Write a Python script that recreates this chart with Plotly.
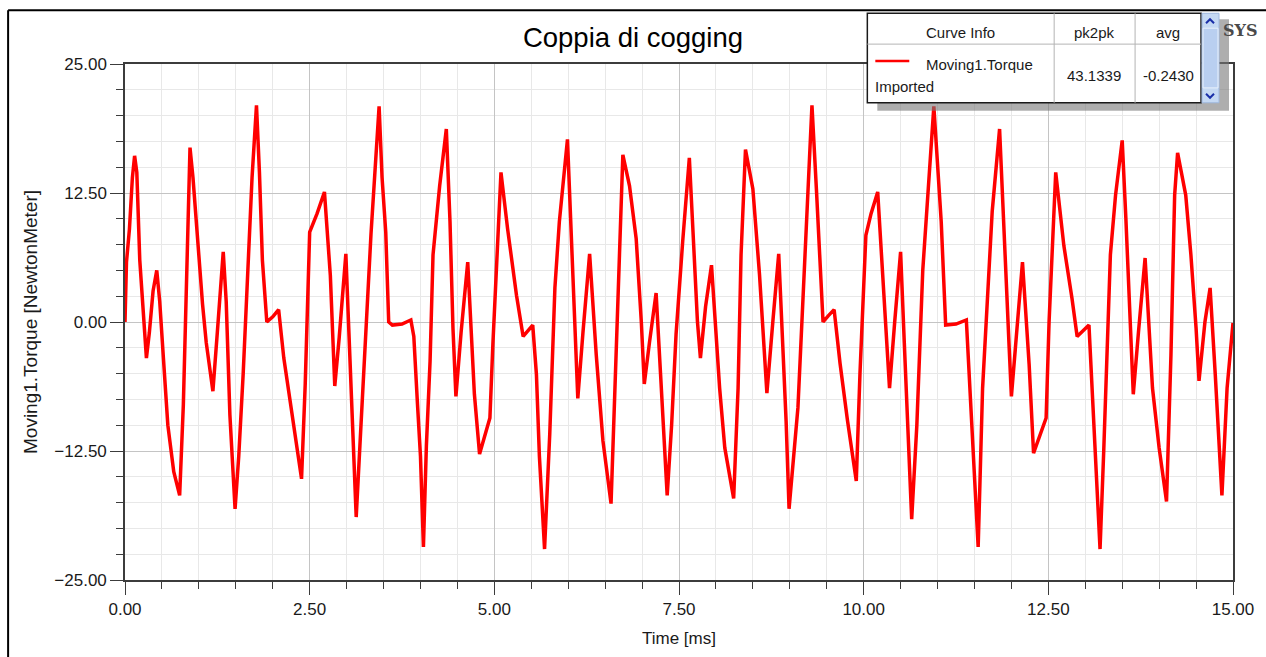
import plotly.graph_objects as go

# ---- data ----
time_ms = [
    0.00, 0.02, 0.06, 0.10, 0.13, 0.16, 0.20, 0.25, 0.29, 0.33, 0.38, 0.43, 0.47, 0.52, 0.58, 0.66, 0.74,
    0.79, 0.84, 0.88, 0.92, 0.97, 1.05, 1.10, 1.19, 1.25, 1.33, 1.37, 1.42, 1.49, 1.54, 1.60, 1.66, 1.72,
    1.78, 1.82, 1.86, 1.92, 2.00, 2.08, 2.15, 2.25, 2.39, 2.44, 2.50, 2.60, 2.70, 2.78, 2.81, 2.84, 2.90,
    2.99, 3.02, 3.07, 3.13, 3.18, 3.25, 3.33, 3.44, 3.48, 3.53, 3.57, 3.62, 3.75, 3.87, 3.91, 3.96, 4.00,
    4.04, 4.08, 4.13, 4.17, 4.26, 4.35, 4.40, 4.44, 4.48, 4.55, 4.64, 4.68, 4.73, 4.80, 4.94, 4.98, 5.09,
    5.18, 5.30, 5.39, 5.52, 5.57, 5.61, 5.68, 5.75, 5.82, 5.88, 5.99, 6.04, 6.09, 6.13, 6.20, 6.29, 6.38,
    6.47, 6.58, 6.67, 6.74, 6.83, 6.92, 6.99, 7.03, 7.10, 7.19, 7.25, 7.34, 7.40, 7.46, 7.55, 7.64, 7.69,
    7.75, 7.79, 7.86, 7.94, 8.05, 8.12, 8.24, 8.30, 8.34, 8.40, 8.50, 8.59, 8.66, 8.69, 8.77, 8.85, 8.95,
    8.99, 9.11, 9.20, 9.30, 9.36, 9.40, 9.45, 9.52, 9.60, 9.68, 9.78, 9.90, 9.95, 10.03, 10.10, 10.19,
    10.30, 10.35, 10.42, 10.50, 10.55, 10.65, 10.72, 10.80, 10.95, 11.05, 11.11, 11.25, 11.39, 11.43,
    11.50, 11.55, 11.61, 11.68, 11.74, 11.84, 11.90, 11.97, 12.00, 12.07, 12.15, 12.24, 12.30, 12.47,
    12.51, 12.60, 12.71, 12.82, 12.89, 13.05, 13.09, 13.14, 13.20, 13.25, 13.30, 13.34, 13.41, 13.50,
    13.55, 13.59, 13.65, 13.72, 13.81, 13.91, 14.00, 14.10, 14.16, 14.21, 14.25, 14.36, 14.43, 14.50,
    14.54, 14.62, 14.69, 14.76, 14.85, 14.92, 15.00,
]
torque_nm = [
    0.0, 5.8, 9.0, 14.0, 16.1, 14.5, 6.0, 0.0, -3.5, -1.0, 3.0, 5.0, 2.0, -3.5, -10.0, -14.5, -16.8,
    -8.0, 6.0, 16.9, 14.0, 9.0, 1.7, -2.0, -6.7, -1.0, 6.8, 2.0, -9.0, -18.1, -13.0, -5.0, 5.0, 14.0,
    21.0, 14.5, 6.0, 0.0, 0.5, 1.2, -3.5, -8.5, -15.2, -6.0, 8.7, 10.5, 12.6, 4.5, -1.4, -6.2, -1.5,
    6.6, 1.0, -9.0, -18.9, -12.0, -2.0, 8.5, 20.9, 14.0, 8.7, 0.0, -0.3, -0.2, 0.2, -1.4, -8.0, -13.0,
    -21.8, -12.0, -3.8, 6.5, 13.2, 18.7, 9.7, -0.6, -7.2, -1.0, 5.8, 0.0, -7.0, -12.8, -9.3, -2.2, 14.5,
    9.0, 2.6, -1.4, -0.3, -5.1, -13.0, -22.0, -10.9, 3.3, 9.7, 17.7, 8.8, 1.7, -7.4, -1.0, 6.6, -3.2,
    -11.5, -17.6, 1.7, 16.2, 13.2, 8.1, 0.0, -6.0, -2.0, 2.8, -5.0, -16.8, -10.0, -1.2, 7.8, 15.9, 8.7,
    0.0, -3.5, 1.5, 5.5, -6.4, -12.2, -17.1, -6.4, 6.5, 16.7, 12.9, 4.6, -3.2, -6.9, 0.0, 6.6, -9.6,
    -18.1, -8.3, 5.8, 21.0, 12.9, 7.1, 0.0, 0.6, 1.2, -4.0, -9.5, -15.4, -5.0, 8.4, 10.5, 12.6,
    0.0, -6.4, 0.0, 6.8, -2.0, -19.1, -10.0, 5.0, 20.9, 9.7, -0.3, -0.2, 0.2, -5.7,
    -16.0, -21.8, -6.4, 3.3, 10.7, 18.7, 8.1, -2.5, -7.2, -1.0, 5.8, -4.1, -12.7, -9.3,
    0.0, 14.5, 7.4, 2.3, -1.4, -0.3, -6.4, -14.4, -22.0, -12.5, -1.6, 6.5, 12.3, 17.6,
    10.0, 3.3, -7.0, -1.0, 6.2, -6.4, -12.2, -17.4, -3.2, 12.3, 16.4, 12.3, 6.5, -0.6,
    -5.7, 0.0, 3.3, -5.1, -16.8, -6.4, -0.1,
]

x_tick_vals = [0, 2.5, 5, 7.5, 10, 12.5, 15]
y_tick_vals = [-25, -12.5, 0, 12.5, 25]
legend_headers = ["Curve Info", "pk2pk", "avg"]
curve_name = ["Moving1.Torque", "Imported"]
curve_stats = ["43.1339", "-0.2430"]

# ---- layout helpers (pixel -> paper) ----
W, H = 1266, 657
L, R, T, B = 125, 1234, 64, 583


def X(px):
    return (px - L) / (R - L)


def Y(py):
    return (B - py) / (B - T)


FONT = "Liberation Sans, Arial, sans-serif"

fig = go.Figure()
fig.add_trace(go.Scatter(
    x=time_ms, y=torque_nm, mode="lines",
    line=dict(color="#ff0000", width=3.5),
    name="Moving1.Torque Imported", showlegend=False, hoverinfo="x+y",
))

axis_common = dict(
    showline=True, linecolor="#3c3c3c", linewidth=1.5, mirror=True,
    showgrid=True, gridcolor="#c4c4c4", gridwidth=1,
    zeroline=False, ticks="outside", ticklen=13, tickcolor="#3c3c3c", tickwidth=1.2,
    tickformat=".2f", tickfont=dict(family=FONT, size=17, color="#1a1a1a"),
)

fig.update_xaxes(
    range=[0, 15], tickvals=x_tick_vals, **axis_common,
    minor=dict(dtick=0.5, ticks="outside", ticklen=7, tickcolor="#3c3c3c", showgrid=True,
               gridcolor="#e8e8e8", gridwidth=1),
    title=dict(text="Time [ms]", font=dict(family=FONT, size=17, color="#1a1a1a"), standoff=14),
)
fig.update_yaxes(
    range=[-25, 25], tickvals=y_tick_vals, **axis_common,
    minor=dict(dtick=2.5, ticks="outside", ticklen=7, tickcolor="#3c3c3c", showgrid=True,
               gridcolor="#e8e8e8", gridwidth=1),
    title=dict(text="Moving1.Torque [NewtonMeter]", font=dict(family=FONT, size=19, color="#1a1a1a"),
               standoff=12),
)

shapes = []
# outer frame (left & top edges)
shapes.append(dict(type="line", xref="paper", yref="paper", x0=X(8), x1=X(8), y0=Y(10), y1=Y(700),
                   line=dict(color="#000000", width=2), layer="above"))
shapes.append(dict(type="line", xref="paper", yref="paper", x0=X(8), x1=X(1300), y0=Y(10), y1=Y(10),
                   line=dict(color="#000000", width=2), layer="above"))
# legend shadow
shapes.append(dict(type="rect", xref="paper", yref="paper", x0=X(878), x1=X(1230), y0=Y(111), y1=Y(19),
                   fillcolor="rgba(120,120,120,0.6)", line=dict(width=0), layer="above"))
# legend table
shapes.append(dict(type="rect", xref="paper", yref="paper", x0=X(868), x1=X(1202), y0=Y(103), y1=Y(13),
                   fillcolor="#ffffff", line=dict(color="#1a1a1a", width=1.5), layer="above"))
# scroll bar
shapes.append(dict(type="rect", xref="paper", yref="paper", x0=X(1203), x1=X(1220), y0=Y(103), y1=Y(13),
                   fillcolor="#c5d9f3", line=dict(color="#9fb8de", width=1), layer="above"))
shapes.append(dict(type="rect", xref="paper", yref="paper", x0=X(1204), x1=X(1219), y0=Y(88), y1=Y(28),
                   fillcolor="#b9cff0", line=dict(color="#e8f0fb", width=1), layer="above"))
# scroll arrows
shapes.append(dict(type="path", xref="paper", yref="paper",
                   path=f"M {X(1207)},{Y(23)} L {X(1211)},{Y(19)} L {X(1215)},{Y(23)}",
                   line=dict(color="#1a2fa8", width=2), layer="above"))
shapes.append(dict(type="path", xref="paper", yref="paper",
                   path=f"M {X(1207)},{Y(94)} L {X(1211)},{Y(98)} L {X(1215)},{Y(94)}",
                   line=dict(color="#1a2fa8", width=2), layer="above"))
# table dividers
for px in (1055, 1136):
    shapes.append(dict(type="line", xref="paper", yref="paper", x0=X(px), x1=X(px), y0=Y(103), y1=Y(13),
                       line=dict(color="#b4b4b4", width=1), layer="above"))
shapes.append(dict(type="line", xref="paper", yref="paper", x0=X(868), x1=X(1202), y0=Y(44), y1=Y(44),
                   line=dict(color="#b4b4b4", width=1), layer="above"))
# legend line sample
shapes.append(dict(type="line", xref="paper", yref="paper", x0=X(876), x1=X(910), y0=Y(61), y1=Y(61),
                   line=dict(color="#ff0000", width=2.5), layer="above"))

ann_font = dict(family=FONT, size=15, color="#1a1a1a")
annotations = [
    dict(text=legend_headers[0], x=X(961), y=Y(32), xanchor="center", yanchor="middle"),
    dict(text=legend_headers[1], x=X(1095), y=Y(32), xanchor="center", yanchor="middle"),
    dict(text=legend_headers[2], x=X(1169), y=Y(32), xanchor="center", yanchor="middle"),
    dict(text=curve_name[0], x=X(925), y=Y(64), xanchor="left", yanchor="middle"),
    dict(text=curve_name[1], x=X(874), y=Y(87), xanchor="left", yanchor="middle"),
    dict(text=curve_stats[0], x=X(1095), y=Y(76), xanchor="center", yanchor="middle"),
    dict(text=curve_stats[1], x=X(1169), y=Y(76), xanchor="center", yanchor="middle"),
]
for a in annotations:
    a.update(xref="paper", yref="paper", showarrow=False, font=ann_font)
annotations.append(dict(text="<b>SYS</b>", x=X(1222), y=Y(30), xref="paper", yref="paper",
                        xanchor="left", yanchor="middle", showarrow=False,
                        font=dict(family="DejaVu Serif, serif", size=16, color="#4a4a4a")))

fig.update_layout(
    width=W, height=H,
    margin=dict(l=L, r=W - R, t=T, b=H - B, pad=0),
    paper_bgcolor="#ffffff", plot_bgcolor="#ffffff",
    title=dict(text="Coppia di cogging", x=0.5, xref="container", xanchor="center",
               y=1 - 37 / H, yref="container", yanchor="middle",
               font=dict(family=FONT, size=27.5, color="#000000")),
    shapes=shapes, annotations=annotations, showlegend=False,
)

fig.write_html("out.html")
